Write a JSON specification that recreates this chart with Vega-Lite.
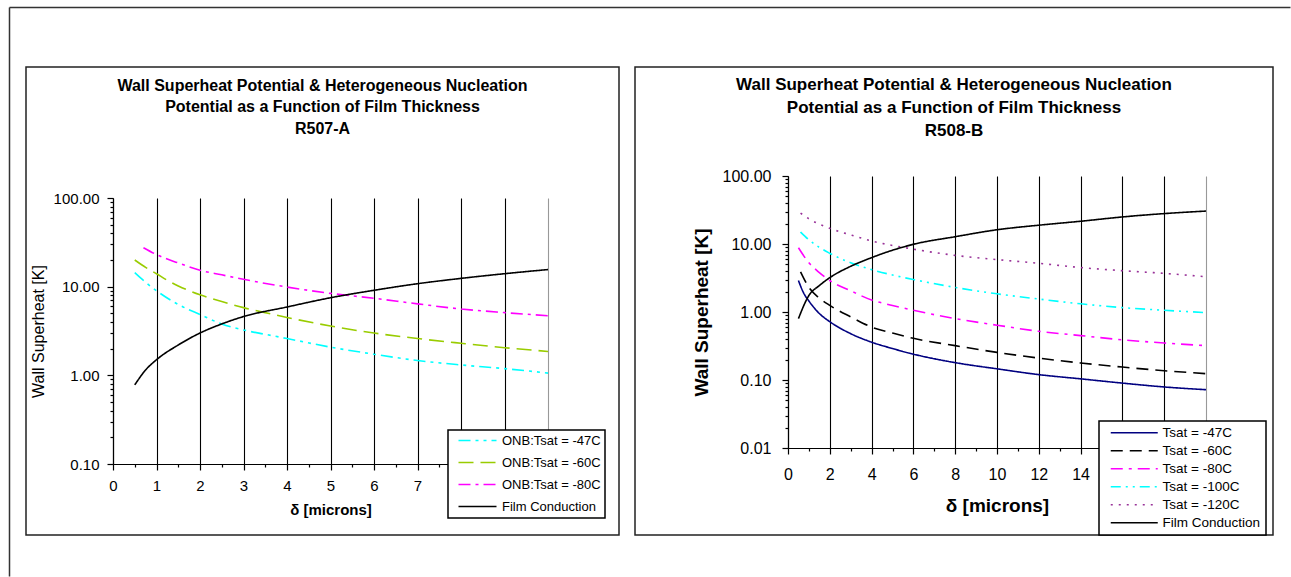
{
  "$schema": "https://vega.github.io/schema/vega-lite/v6.json",
  "background": "white",
  "padding": {"left": 8, "top": 6, "right": 0, "bottom": 0},
  "spacing": 16,
  "bounds": "flush",
  "resolve": {"scale": {"color": "independent", "strokeDash": "independent"}},
  "config": {
    "view": {"stroke": "#222222", "strokeWidth": 1.5},
    "font": "Liberation Sans",
    "axis": {
      "domainColor": "black", "tickColor": "black", "labelColor": "black", "titleColor": "black",
      "labelFont": "Liberation Sans", "titleFont": "Liberation Sans", "gridColor": "black",
      "gridOpacity": 1, "domainWidth": 1.2, "tickWidth": 1.2, "gridWidth": 1.1,
      "labelFlush": false, "labelOverlap": false, "labelBound": false
    },
    "legend": {"strokeWidth": 1.5},
    "title": {"font": "Liberation Sans", "color": "black", "anchor": "middle", "frame": "group", "fontWeight": "bold"}
  },
  "hconcat": [
    {
      "width": 593,
      "height": 468,
      "title": {
        "text": ["Wall Superheat Potential & Heterogeneous Nucleation", "Potential as a Function of Film Thickness", "R507-A"],
        "fontSize": 16, "lineHeight": 21.5, "offset": -129.5
      },
      "data": {"values": [
        {"delta": 0.5, "superheat": 14.4, "series": "ONB:Tsat = -47C"},
        {"delta": 0.75, "superheat": 11.2, "series": "ONB:Tsat = -47C"},
        {"delta": 1, "superheat": 9.0, "series": "ONB:Tsat = -47C"},
        {"delta": 1.5, "superheat": 6.3, "series": "ONB:Tsat = -47C"},
        {"delta": 2, "superheat": 4.85, "series": "ONB:Tsat = -47C"},
        {"delta": 2.5, "superheat": 3.8, "series": "ONB:Tsat = -47C"},
        {"delta": 3, "superheat": 3.25, "series": "ONB:Tsat = -47C"},
        {"delta": 3.5, "superheat": 2.9, "series": "ONB:Tsat = -47C"},
        {"delta": 4, "superheat": 2.6, "series": "ONB:Tsat = -47C"},
        {"delta": 5, "superheat": 2.08, "series": "ONB:Tsat = -47C"},
        {"delta": 6, "superheat": 1.73, "series": "ONB:Tsat = -47C"},
        {"delta": 7, "superheat": 1.47, "series": "ONB:Tsat = -47C"},
        {"delta": 8, "superheat": 1.31, "series": "ONB:Tsat = -47C"},
        {"delta": 9, "superheat": 1.19, "series": "ONB:Tsat = -47C"},
        {"delta": 10, "superheat": 1.06, "series": "ONB:Tsat = -47C"},
        {"delta": 0.5, "superheat": 20.0, "series": "ONB:Tsat = -60C"},
        {"delta": 0.75, "superheat": 16.5, "series": "ONB:Tsat = -60C"},
        {"delta": 1, "superheat": 14.0, "series": "ONB:Tsat = -60C"},
        {"delta": 1.25, "superheat": 11.8, "series": "ONB:Tsat = -60C"},
        {"delta": 1.5, "superheat": 10.2, "series": "ONB:Tsat = -60C"},
        {"delta": 2, "superheat": 8.1, "series": "ONB:Tsat = -60C"},
        {"delta": 2.5, "superheat": 6.8, "series": "ONB:Tsat = -60C"},
        {"delta": 3, "superheat": 5.8, "series": "ONB:Tsat = -60C"},
        {"delta": 3.5, "superheat": 5.1, "series": "ONB:Tsat = -60C"},
        {"delta": 4, "superheat": 4.5, "series": "ONB:Tsat = -60C"},
        {"delta": 5, "superheat": 3.6, "series": "ONB:Tsat = -60C"},
        {"delta": 6, "superheat": 3.0, "series": "ONB:Tsat = -60C"},
        {"delta": 7, "superheat": 2.6, "series": "ONB:Tsat = -60C"},
        {"delta": 8, "superheat": 2.3, "series": "ONB:Tsat = -60C"},
        {"delta": 9, "superheat": 2.05, "series": "ONB:Tsat = -60C"},
        {"delta": 10, "superheat": 1.86, "series": "ONB:Tsat = -60C"},
        {"delta": 0.7, "superheat": 27.5, "series": "ONB:Tsat = -80C"},
        {"delta": 1, "superheat": 23.0, "series": "ONB:Tsat = -80C"},
        {"delta": 1.5, "superheat": 18.5, "series": "ONB:Tsat = -80C"},
        {"delta": 2, "superheat": 15.3, "series": "ONB:Tsat = -80C"},
        {"delta": 2.5, "superheat": 13.6, "series": "ONB:Tsat = -80C"},
        {"delta": 3, "superheat": 12.1, "series": "ONB:Tsat = -80C"},
        {"delta": 4, "superheat": 9.9, "series": "ONB:Tsat = -80C"},
        {"delta": 5, "superheat": 8.4, "series": "ONB:Tsat = -80C"},
        {"delta": 6, "superheat": 7.4, "series": "ONB:Tsat = -80C"},
        {"delta": 7, "superheat": 6.4, "series": "ONB:Tsat = -80C"},
        {"delta": 8, "superheat": 5.6, "series": "ONB:Tsat = -80C"},
        {"delta": 9, "superheat": 5.1, "series": "ONB:Tsat = -80C"},
        {"delta": 10, "superheat": 4.7, "series": "ONB:Tsat = -80C"},
        {"delta": 0.5, "superheat": 0.78, "series": "Film Conduction"},
        {"delta": 0.75, "superheat": 1.15, "series": "Film Conduction"},
        {"delta": 1, "superheat": 1.5, "series": "Film Conduction"},
        {"delta": 1.5, "superheat": 2.2, "series": "Film Conduction"},
        {"delta": 2, "superheat": 3.0, "series": "Film Conduction"},
        {"delta": 2.5, "superheat": 3.8, "series": "Film Conduction"},
        {"delta": 3, "superheat": 4.6, "series": "Film Conduction"},
        {"delta": 4, "superheat": 5.9, "series": "Film Conduction"},
        {"delta": 5, "superheat": 7.5, "series": "Film Conduction"},
        {"delta": 6, "superheat": 9.1, "series": "Film Conduction"},
        {"delta": 7, "superheat": 10.8, "series": "Film Conduction"},
        {"delta": 8, "superheat": 12.4, "series": "Film Conduction"},
        {"delta": 9, "superheat": 14.0, "series": "Film Conduction"},
        {"delta": 10, "superheat": 15.6, "series": "Film Conduction"}
      ]},
      "resolve": {"scale": {"x": "independent", "y": "independent"}},
      "layer": [
        {
          "mark": {"type": "point", "opacity": 0},
          "encoding": {
            "x": {
              "field": "delta", "type": "quantitative",
              "scale": {"domain": [0, 10], "range": [87, 522], "nice": false, "zero": false},
              "axis": {
                "orient": "top", "labels": false, "ticks": false, "domain": false, "grid": true, "title": null,
                "values": [0, 1, 2, 3, 4, 5, 6, 7, 8, 9, 10],
                "gridColor": {"condition": {"test": "datum.value === 10", "value": "#999999"}, "value": "black"}
              }
            },
            "y": {"field": "superheat", "type": "quantitative", "scale": {"type": "log", "domain": [0.1, 100], "range": [397, 131], "nice": false}, "axis": null}
          }
        },
        {
          "mark": {"type": "line", "strokeWidth": 1.6, "interpolate": "monotone", "clip": true},
          "encoding": {
            "x": {
              "field": "delta", "type": "quantitative",
              "scale": {"domain": [0, 10], "range": [87, 522], "nice": false, "zero": false},
              "axis": {
                "orient": "bottom", "offset": -71, "grid": false,
                "values": [0, 0.5, 1, 1.5, 2, 2.5, 3, 3.5, 4, 4.5, 5, 5.5, 6, 6.5, 7, 7.5, 8, 8.5, 9, 9.5, 10],
                "labelExpr": "datum.value % 1 === 0 ? datum.value : ''",
                "tickSize": {"condition": {"test": "datum.value % 1 === 0", "value": 6}, "value": 3},
                "labelFontSize": 15, "labelPadding": 8,
                "title": "δ [microns]", "titleFontSize": 15, "titleFontWeight": "bold", "titlePadding": 9
              }
            },
            "y": {
              "field": "superheat", "type": "quantitative",
              "scale": {"type": "log", "domain": [0.1, 100], "range": [397, 131], "nice": false},
              "axis": {
                "orient": "left", "offset": -87,
                "values": [0.1, 0.2, 0.3, 0.4, 0.5, 0.6, 0.7, 0.8, 0.9, 1, 2, 3, 4, 5, 6, 7, 8, 9, 10, 20, 30, 40, 50, 60, 70, 80, 90, 100],
                "labelExpr": "(datum.value == 0.1 || datum.value == 1 || datum.value == 10 || datum.value == 100) ? format(datum.value, '.2f') : ''",
                "tickSize": {"condition": {"test": "datum.value == 0.1 || datum.value == 1 || datum.value == 10 || datum.value == 100", "value": 6}, "value": 3},
                "gridColor": {"condition": [{"test": "!(datum.value == 0.1 || datum.value == 1 || datum.value == 10 || datum.value == 100)", "value": "transparent"}, {"test": "datum.value == 100", "value": "#999999"}], "value": "black"},
                "labelFontSize": 15, "labelPadding": 8,
                "title": "Wall Superheat [K]", "titleFontSize": 16, "titleFontWeight": "normal", "titlePadding": 7
              }
            },
            "color": {
              "field": "series", "type": "nominal",
              "scale": {"domain": ["ONB:Tsat = -47C", "ONB:Tsat = -60C", "ONB:Tsat = -80C", "Film Conduction"], "range": ["#00FFFF", "#99CC00", "#FF00FF", "#000000"]},
              "legend": {"orient": "none", "legendX": 422, "legendY": 363, "title": null, "fillColor": "white", "strokeColor": "black", "padding": 4, "rowPadding": 8, "labelFontSize": 13, "labelFont": "Liberation Sans", "labelColor": "black", "symbolType": "M0,0H7.6", "symbolSize": 100, "symbolStrokeWidth": 1.6, "labelOffset": 37, "zindex": 1}
            },
            "strokeDash": {
              "field": "series", "type": "nominal",
              "scale": {"domain": ["ONB:Tsat = -47C", "ONB:Tsat = -60C", "ONB:Tsat = -80C", "Film Conduction"], "range": [[12, 5, 3, 5, 3, 5], [15, 7], [12, 5, 3, 5], [1, 0]]},
              "legend": {"orient": "none", "legendX": 422, "legendY": 363, "title": null, "fillColor": "white", "strokeColor": "black", "padding": 4, "rowPadding": 8, "labelFontSize": 13, "labelFont": "Liberation Sans", "labelColor": "black", "symbolType": "M0,0H7.6", "symbolSize": 100, "symbolStrokeWidth": 1.6, "labelOffset": 37, "zindex": 1}
            }
          }
        },
        {
          "mark": {"type": "point", "opacity": 0},
          "encoding": {
            "x": {
              "field": "delta", "type": "quantitative",
              "scale": {"domain": [0, 10], "range": [-17, 1264], "nice": false, "zero": false},
              "axis": {"orient": "top", "offset": 60, "labels": false, "ticks": false, "grid": false, "title": null, "domainColor": "#333333", "domainWidth": 1.5}
            },
            "y": {
              "field": "superheat", "type": "quantitative",
              "scale": {"domain": [0, 30], "range": [509, -60], "nice": false, "zero": false},
              "axis": {"orient": "left", "offset": 17, "labels": false, "ticks": false, "grid": false, "title": null, "domainColor": "#333333", "domainWidth": 1.5}
            }
          }
        }
      ]
    },
    {
      "width": 638,
      "height": 468,
      "title": {
        "text": ["Wall Superheat Potential & Heterogeneous Nucleation", "Potential as a Function of Film Thickness", "R508-B"],
        "fontSize": 17, "lineHeight": 23, "offset": -73
      },
      "data": {"values": [
        {"delta": 0.5, "superheat": 2.9, "series": "Tsat = -47C"},
        {"delta": 0.75, "superheat": 1.9, "series": "Tsat = -47C"},
        {"delta": 1, "superheat": 1.45, "series": "Tsat = -47C"},
        {"delta": 1.5, "superheat": 0.95, "series": "Tsat = -47C"},
        {"delta": 2, "superheat": 0.72, "series": "Tsat = -47C"},
        {"delta": 3, "superheat": 0.48, "series": "Tsat = -47C"},
        {"delta": 4, "superheat": 0.36, "series": "Tsat = -47C"},
        {"delta": 5, "superheat": 0.29, "series": "Tsat = -47C"},
        {"delta": 6, "superheat": 0.24, "series": "Tsat = -47C"},
        {"delta": 8, "superheat": 0.18, "series": "Tsat = -47C"},
        {"delta": 10, "superheat": 0.146, "series": "Tsat = -47C"},
        {"delta": 12, "superheat": 0.12, "series": "Tsat = -47C"},
        {"delta": 14, "superheat": 0.104, "series": "Tsat = -47C"},
        {"delta": 16, "superheat": 0.09, "series": "Tsat = -47C"},
        {"delta": 18, "superheat": 0.079, "series": "Tsat = -47C"},
        {"delta": 20, "superheat": 0.072, "series": "Tsat = -47C"},
        {"delta": 0.6, "superheat": 3.9, "series": "Tsat = -60C"},
        {"delta": 1, "superheat": 2.3, "series": "Tsat = -60C"},
        {"delta": 1.5, "superheat": 1.6, "series": "Tsat = -60C"},
        {"delta": 2, "superheat": 1.25, "series": "Tsat = -60C"},
        {"delta": 3, "superheat": 0.85, "series": "Tsat = -60C"},
        {"delta": 4, "superheat": 0.6, "series": "Tsat = -60C"},
        {"delta": 5, "superheat": 0.49, "series": "Tsat = -60C"},
        {"delta": 6, "superheat": 0.41, "series": "Tsat = -60C"},
        {"delta": 8, "superheat": 0.32, "series": "Tsat = -60C"},
        {"delta": 10, "superheat": 0.255, "series": "Tsat = -60C"},
        {"delta": 12, "superheat": 0.21, "series": "Tsat = -60C"},
        {"delta": 14, "superheat": 0.178, "series": "Tsat = -60C"},
        {"delta": 16, "superheat": 0.155, "series": "Tsat = -60C"},
        {"delta": 18, "superheat": 0.137, "series": "Tsat = -60C"},
        {"delta": 20, "superheat": 0.124, "series": "Tsat = -60C"},
        {"delta": 0.5, "superheat": 8.8, "series": "Tsat = -80C"},
        {"delta": 1, "superheat": 5.3, "series": "Tsat = -80C"},
        {"delta": 1.5, "superheat": 3.8, "series": "Tsat = -80C"},
        {"delta": 2, "superheat": 2.9, "series": "Tsat = -80C"},
        {"delta": 3, "superheat": 2.05, "series": "Tsat = -80C"},
        {"delta": 4, "superheat": 1.5, "series": "Tsat = -80C"},
        {"delta": 5, "superheat": 1.25, "series": "Tsat = -80C"},
        {"delta": 6, "superheat": 1.06, "series": "Tsat = -80C"},
        {"delta": 8, "superheat": 0.8, "series": "Tsat = -80C"},
        {"delta": 10, "superheat": 0.64, "series": "Tsat = -80C"},
        {"delta": 12, "superheat": 0.52, "series": "Tsat = -80C"},
        {"delta": 14, "superheat": 0.45, "series": "Tsat = -80C"},
        {"delta": 16, "superheat": 0.39, "series": "Tsat = -80C"},
        {"delta": 18, "superheat": 0.35, "series": "Tsat = -80C"},
        {"delta": 20, "superheat": 0.32, "series": "Tsat = -80C"},
        {"delta": 0.6, "superheat": 15.0, "series": "Tsat = -100C"},
        {"delta": 1, "superheat": 11.5, "series": "Tsat = -100C"},
        {"delta": 2, "superheat": 7.3, "series": "Tsat = -100C"},
        {"delta": 3, "superheat": 5.3, "series": "Tsat = -100C"},
        {"delta": 4, "superheat": 4.2, "series": "Tsat = -100C"},
        {"delta": 5, "superheat": 3.5, "series": "Tsat = -100C"},
        {"delta": 6, "superheat": 3.0, "series": "Tsat = -100C"},
        {"delta": 8, "superheat": 2.3, "series": "Tsat = -100C"},
        {"delta": 10, "superheat": 1.85, "series": "Tsat = -100C"},
        {"delta": 12, "superheat": 1.55, "series": "Tsat = -100C"},
        {"delta": 14, "superheat": 1.32, "series": "Tsat = -100C"},
        {"delta": 16, "superheat": 1.16, "series": "Tsat = -100C"},
        {"delta": 18, "superheat": 1.06, "series": "Tsat = -100C"},
        {"delta": 20, "superheat": 0.98, "series": "Tsat = -100C"},
        {"delta": 0.6, "superheat": 28.5, "series": "Tsat = -120C"},
        {"delta": 1, "superheat": 23.5, "series": "Tsat = -120C"},
        {"delta": 2, "superheat": 17.0, "series": "Tsat = -120C"},
        {"delta": 3, "superheat": 13.6, "series": "Tsat = -120C"},
        {"delta": 4, "superheat": 11.1, "series": "Tsat = -120C"},
        {"delta": 6, "superheat": 8.4, "series": "Tsat = -120C"},
        {"delta": 8, "superheat": 6.8, "series": "Tsat = -120C"},
        {"delta": 10, "superheat": 5.9, "series": "Tsat = -120C"},
        {"delta": 12, "superheat": 5.2, "series": "Tsat = -120C"},
        {"delta": 14, "superheat": 4.5, "series": "Tsat = -120C"},
        {"delta": 16, "superheat": 4.05, "series": "Tsat = -120C"},
        {"delta": 18, "superheat": 3.7, "series": "Tsat = -120C"},
        {"delta": 20, "superheat": 3.3, "series": "Tsat = -120C"},
        {"delta": 0.5, "superheat": 0.8, "series": "Film Conduction"},
        {"delta": 1, "superheat": 1.75, "series": "Film Conduction"},
        {"delta": 1.5, "superheat": 2.45, "series": "Film Conduction"},
        {"delta": 2, "superheat": 3.2, "series": "Film Conduction"},
        {"delta": 3, "superheat": 4.7, "series": "Film Conduction"},
        {"delta": 4, "superheat": 6.3, "series": "Film Conduction"},
        {"delta": 5, "superheat": 8.1, "series": "Film Conduction"},
        {"delta": 6, "superheat": 9.9, "series": "Film Conduction"},
        {"delta": 8, "superheat": 12.8, "series": "Film Conduction"},
        {"delta": 10, "superheat": 16.2, "series": "Film Conduction"},
        {"delta": 12, "superheat": 18.9, "series": "Film Conduction"},
        {"delta": 14, "superheat": 21.6, "series": "Film Conduction"},
        {"delta": 16, "superheat": 25.0, "series": "Film Conduction"},
        {"delta": 18, "superheat": 28.0, "series": "Film Conduction"},
        {"delta": 20, "superheat": 30.5, "series": "Film Conduction"}
      ]},
      "resolve": {"scale": {"x": "independent", "y": "independent"}},
      "layer": [
        {
          "mark": {"type": "point", "opacity": 0},
          "encoding": {
            "x": {
              "field": "delta", "type": "quantitative",
              "scale": {"domain": [0, 20], "range": [153, 571], "nice": false, "zero": false},
              "axis": {
                "orient": "top", "labels": false, "ticks": false, "domain": false, "grid": true, "title": null,
                "values": [0, 2, 4, 6, 8, 10, 12, 14, 16, 18, 20],
                "gridColor": {"condition": {"test": "datum.value === 20", "value": "#999999"}, "value": "black"}
              }
            },
            "y": {"field": "superheat", "type": "quantitative", "scale": {"type": "log", "domain": [0.01, 100], "range": [381, 109], "nice": false}, "axis": null}
          }
        },
        {
          "mark": {"type": "line", "strokeWidth": 1.6, "interpolate": "monotone", "clip": true},
          "encoding": {
            "x": {
              "field": "delta", "type": "quantitative",
              "scale": {"domain": [0, 20], "range": [153, 571], "nice": false, "zero": false},
              "axis": {
                "orient": "bottom", "offset": -87, "grid": false,
                "values": [0, 1, 2, 3, 4, 5, 6, 7, 8, 9, 10, 11, 12, 13, 14, 15, 16, 17, 18, 19, 20],
                "labelExpr": "datum.value % 2 === 0 ? datum.value : ''",
                "tickSize": {"condition": {"test": "datum.value % 2 === 0", "value": 6}, "value": 3},
                "labelFontSize": 16, "labelPadding": 12,
                "title": "δ [microns]", "titleFontSize": 19, "titleFontWeight": "bold", "titlePadding": 14
              }
            },
            "y": {
              "field": "superheat", "type": "quantitative",
              "scale": {"type": "log", "domain": [0.01, 100], "range": [381, 109], "nice": false},
              "axis": {
                "orient": "left", "offset": -153,
                "values": [0.01, 0.02, 0.03, 0.04, 0.05, 0.06, 0.07, 0.08, 0.09, 0.1, 0.2, 0.3, 0.4, 0.5, 0.6, 0.7, 0.8, 0.9, 1, 2, 3, 4, 5, 6, 7, 8, 9, 10, 20, 30, 40, 50, 60, 70, 80, 90, 100],
                "labelExpr": "(datum.value == 0.01 || datum.value == 0.1 || datum.value == 1 || datum.value == 10 || datum.value == 100) ? format(datum.value, '.2f') : ''",
                "tickSize": {"condition": {"test": "datum.value == 0.01 || datum.value == 0.1 || datum.value == 1 || datum.value == 10 || datum.value == 100", "value": 6}, "value": 3},
                "gridColor": {"condition": [{"test": "!(datum.value == 0.01 || datum.value == 0.1 || datum.value == 1 || datum.value == 10 || datum.value == 100)", "value": "transparent"}, {"test": "datum.value == 100", "value": "#999999"}], "value": "black"},
                "labelFontSize": 16, "labelPadding": 11,
                "title": "Wall Superheat [K]", "titleFontSize": 19, "titleFontWeight": "bold", "titlePadding": 11
              }
            },
            "color": {
              "field": "series", "type": "nominal",
              "scale": {"domain": ["Tsat = -47C", "Tsat = -60C", "Tsat = -80C", "Tsat = -100C", "Tsat = -120C", "Film Conduction"], "range": ["#000080", "#000000", "#FF00FF", "#00FFFF", "#993399", "#000000"]},
              "legend": {"orient": "none", "legendX": 464, "legendY": 354, "title": null, "fillColor": "white", "strokeColor": "black", "padding": 5, "rowPadding": 3, "labelFontSize": 13.5, "labelFont": "Liberation Sans", "labelColor": "black", "symbolType": "M0,0H9.4", "symbolSize": 100, "symbolStrokeWidth": 1.6, "labelOffset": 45, "zindex": 1}
            },
            "strokeDash": {
              "field": "series", "type": "nominal",
              "scale": {"domain": ["Tsat = -47C", "Tsat = -60C", "Tsat = -80C", "Tsat = -100C", "Tsat = -120C", "Film Conduction"], "range": [[1, 0], [12, 7], [12, 6, 3, 6], [10, 5, 2, 5, 2, 5], [2, 6], [1, 0]]},
              "legend": {"orient": "none", "legendX": 464, "legendY": 354, "title": null, "fillColor": "white", "strokeColor": "black", "padding": 5, "rowPadding": 3, "labelFontSize": 13.5, "labelFont": "Liberation Sans", "labelColor": "black", "symbolType": "M0,0H9.4", "symbolSize": 100, "symbolStrokeWidth": 1.6, "labelOffset": 45, "zindex": 1}
            }
          }
        }
      ]
    }
  ]
}
